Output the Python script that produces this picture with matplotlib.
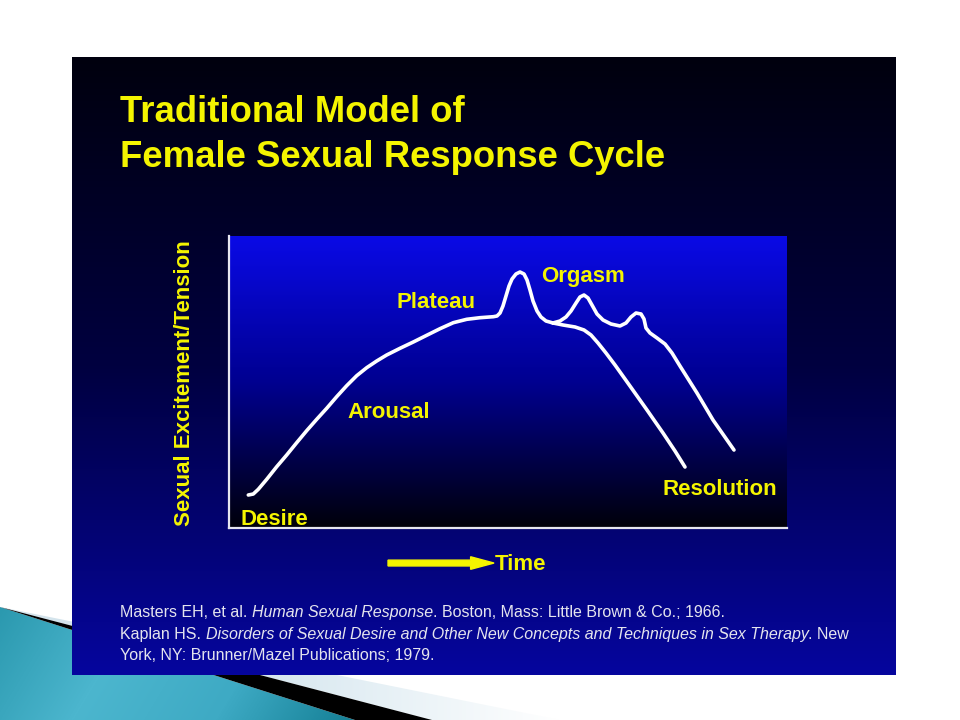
import numpy as np
import matplotlib
matplotlib.use('Agg')
import matplotlib.pyplot as plt
from matplotlib.patches import Polygon, FancyArrow
from matplotlib.colors import LinearSegmentedColormap

# ---------------- data (time, excitement in 0-100 units) ----------------
rise_t = [3.46, 4.35, 5.25, 6.76, 8.55, 10.34, 12.13, 13.92, 15.72, 17.51, 19.30, 21.09,
          22.89, 24.68, 26.47, 28.26, 30.65, 33.03, 35.43, 37.81, 40.20, 42.60, 44.98,
          47.37, 48.03, 48.57, 49.10, 49.64, 50.18, 50.72, 51.43, 52.15, 52.87, 53.41,
          53.94, 54.48, 55.20, 55.91, 56.81, 58.06]
rise_y = [11.30, 11.64, 13.25, 16.68, 20.99, 25.00, 29.21, 33.32, 37.23, 40.99, 44.97, 48.73,
          52.16, 54.90, 57.19, 59.25, 61.54, 63.70, 65.99, 68.25, 70.31, 71.47, 72.02,
          72.36, 72.60, 73.63, 76.03, 79.45, 82.88, 85.27, 86.99, 87.67, 86.99, 84.93,
          81.51, 77.74, 74.32, 72.26, 70.89, 70.21]
single_t = [58.06, 59.86, 62.01, 63.62, 64.87, 66.13, 67.56, 69.18, 71.86, 74.91, 77.78,
            79.93, 81.72]
single_y = [70.21, 69.52, 68.84, 67.81, 66.10, 63.36, 59.93, 55.82, 48.63, 40.41, 32.53,
            26.37, 20.89]
multi_t = [58.06, 59.32, 60.39, 61.29, 62.19, 62.90, 63.62, 64.34, 65.05, 65.95, 67.03,
           68.46, 70.07, 71.15, 72.04, 72.94, 73.84, 74.37, 74.73, 75.45, 76.70, 78.14,
           79.39, 80.82, 83.87, 86.74, 90.50]
multi_y = [70.21, 70.89, 72.26, 74.32, 77.05, 79.11, 79.79, 78.77, 76.37, 73.29, 71.23,
           69.86, 69.18, 70.21, 72.26, 73.63, 73.29, 71.58, 68.49, 66.78, 65.07, 63.01,
           59.93, 55.48, 46.23, 36.99, 26.71]

phase_labels = ['Desire', 'Arousal', 'Plateau', 'Orgasm', 'Resolution']
phase_x = [2.15, 21.3, 30.1, 55.9, 77.6]
phase_y = [1.0, 37.7, 75.3, 84.2, 11.3]

title_lines = ['Traditional Model of', 'Female Sexual Response Cycle']
ylabel = 'Sexual Excitement/Tension'
xlabel = 'Time'
refs = [
    [('Masters EH, et al. ', 'normal'), ('Human Sexual Response', 'italic'),
     ('. Boston, Mass: Little Brown & Co.; 1966.', 'normal')],
    [('Kaplan HS. ', 'normal'),
     ('Disorders of Sexual Desire and Other New Concepts and Techniques in Sex Therapy', 'italic'),
     ('. New', 'normal')],
    [('York, NY: Brunner/Mazel Publications; 1979.', 'normal')],
]

FONT = 'Liberation Sans'
YELLOW = '#f4f400'
W, H = 960, 720

fig = plt.figure(figsize=(9.6, 7.2), dpi=100)
fig.patch.set_facecolor('white')

# ---------------- slide background ----------------
bg = fig.add_axes([0, 0, 1, 1], zorder=0)
bg.set_xlim(0, W)
bg.set_ylim(H, 0)
bg.axis('off')

# teal chevron
gx, gy = np.meshgrid(np.linspace(0, 360, 360), np.linspace(600, 720, 120))
gz = gx + 0.6 * (gy - 600)
teal = LinearSegmentedColormap.from_list('teal', ['#2a98ae', '#4cb6ce', '#3eaac4', '#137e94'])
im = bg.imshow(gz, extent=(0, 360, 720, 600), cmap=teal, aspect='auto', zorder=1)
tri = Polygon([(0, 607), (0, 720), (355, 720)], closed=True, facecolor='none', edgecolor='none')
bg.add_patch(tri)
im.set_clip_path(tri)

# light wedge
lx = np.linspace(0, 1, 256)[None, :]
light = LinearSegmentedColormap.from_list('light', ['#d4e4ec', '#d8e8f0', '#ffffff'])
im2 = bg.imshow(lx, extent=(0, 560, 720, 600), cmap=light, aspect='auto', zorder=1)
tri2 = Polygon([(0, 607), (560, 720), (432, 720)], closed=True, facecolor='none', edgecolor='none')
bg.add_patch(tri2)
im2.set_clip_path(tri2)

# black shadow wedge
bg.add_patch(Polygon([(0, 607), (432, 720), (355, 720)], closed=True,
                     facecolor='black', edgecolor='none', zorder=2))

# dark blue panel gradient
panel_cmap = LinearSegmentedColormap.from_list('panel', ['#00000e', '#000040', '#06069e'])
pv = np.linspace(0, 1, 256)[:, None]
bg.imshow(pv, extent=(72, 896, 675, 57), cmap=panel_cmap, aspect='auto', zorder=3)

# ---------------- chart ----------------
ax = fig.add_axes([229 / W, 1 - 528 / H, (787 - 229) / W, (528 - 236) / H], zorder=2)
ax.set_xlim(0, 100)
ax.set_ylim(0, 100)
area_cmap = LinearSegmentedColormap.from_list('area', ['#00000a', '#000090', '#0a0ae6'])
ax.imshow(np.linspace(0, 1, 256)[:, None][::-1], extent=(0, 100, 0, 100),
          cmap=area_cmap, aspect='auto', zorder=0)
for s in ['top', 'right']:
    ax.spines[s].set_visible(False)
for s in ['left', 'bottom']:
    ax.spines[s].set_color('#e6e6f0')
    ax.spines[s].set_linewidth(1.6)
ax.set_xticks([])
ax.set_yticks([])

lw = 2.6
for t, y in [(rise_t, rise_y), (single_t, single_y), (multi_t, multi_y)]:
    ax.plot(t, y, color='white', lw=lw, solid_capstyle='round', solid_joinstyle='round', zorder=3)

for lab, x, y in zip(phase_labels, phase_x, phase_y):
    ax.text(x, y, lab, color=YELLOW, fontsize=16, fontweight='bold', family=FONT,
            ha='left', va='baseline', zorder=4)

ax.set_ylabel(ylabel, color=YELLOW, fontsize=16, fontweight='bold', family=FONT, va='center')
ax.yaxis.set_label_coords(-0.0806, 0.497)

# Time arrow + label
ax.add_patch(FancyArrow(28.5, -12.0, 19.0, 0, width=2.0, head_width=4.3, head_length=4.2,
                        length_includes_head=True, color=YELLOW, clip_on=False, zorder=4))
ax.text(47.6, -14.4, xlabel, color=YELLOW, fontsize=16, fontweight='bold', family=FONT,
        ha='left', va='baseline', clip_on=False)

# ---------------- title ----------------
fig.text(120 / W, 1 - 122 / H, title_lines[0], color=YELLOW, fontsize=26.3,
         fontweight='bold', family=FONT, va='baseline', ha='left', zorder=5)
fig.text(120 / W, 1 - 167 / H, title_lines[1], color=YELLOW, fontsize=26.3,
         fontweight='bold', family=FONT, va='baseline', ha='left', zorder=5)

# ---------------- references (mixed style) ----------------
renderer = fig.canvas.get_renderer()
REF_SIZE = 11.5
REF_COLOR = '#e4e4ee'


def text_w(s, style):
    t = fig.text(0, 0, s, fontsize=REF_SIZE, style=style, family=FONT)
    w = t.get_window_extent(renderer).width
    t.remove()
    return w


space_w = text_w('x x', 'normal') - text_w('xx', 'normal')
baselines = [617, 639, 660]
for parts, base in zip(refs, baselines):
    x = 120.0
    for s, style in parts:
        core = s.rstrip(' ')
        ntrail = len(s) - len(core)
        t = fig.text(x / W, 1 - base / H, core, fontsize=REF_SIZE, style=style,
                     family=FONT, color=REF_COLOR, va='baseline', ha='left', zorder=5)
        x += t.get_window_extent(renderer).width + ntrail * space_w

fig.savefig('out.png', dpi=100, facecolor='white')
